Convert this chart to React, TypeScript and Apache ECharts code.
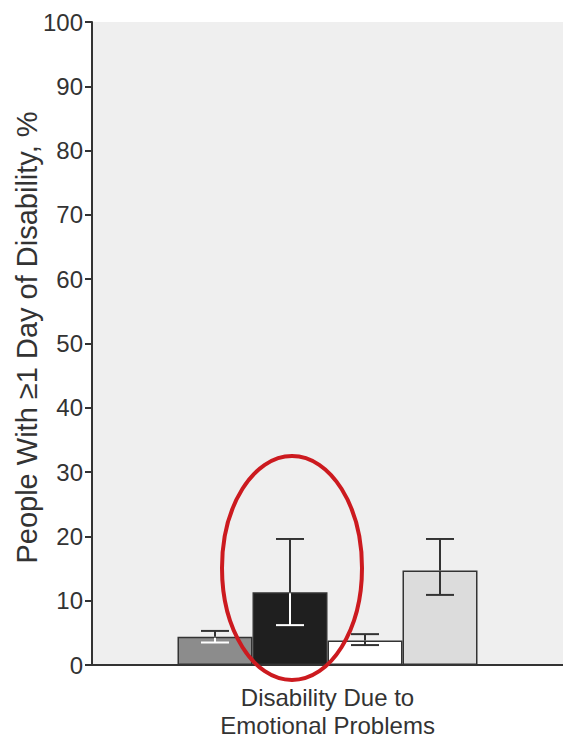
import React, { useEffect, useRef } from "react";
import * as echarts from "echarts";

const categories = ["Disability Due to\nEmotional Problems"];
const seriesNames = ["Group 1", "Group 2", "Group 3", "Group 4"];
const values = [4.4, 11.3, 3.8, 14.7];
const lows = [3.5, 6.2, 3.1, 10.9];
const highs = [5.3, 19.6, 4.8, 19.6];
const barColors = ["#8c8c8c", "#1f1f1f", "#ffffff", "#dcdcdc"];
const innerErrColors = ["#ffffff", "#ffffff", "#333333", "#333333"];
const yTicks = { min: 0, max: 100, interval: 10 };

const BAR_W = 75;
const CAP_W = 28;
const FONT = "'Liberation Sans', Arial, sans-serif";

export default function App() {
  const ref = useRef<HTMLDivElement>(null);
  useEffect(() => {
    if (!ref.current) return;
    const chart = echarts.init(ref.current, undefined, { renderer: "svg" });
    const errData = values.map((v, i) => [0, i, v, lows[i], highs[i]]);
    const option: any = {
      animation: false,
      backgroundColor: "#ffffff",
      grid: {
        left: 92,
        right: 0,
        top: 22,
        bottom: 75,
        containLabel: false,
        outerBoundsMode: "none",
        show: true,
        backgroundColor: "#efefef",
        borderWidth: 0,
      },
      xAxis: {
        type: "category",
        data: categories,
        axisTick: { show: false },
        axisLine: { show: true, lineStyle: { color: "#333333", width: 2 } },
        axisLabel: {
          color: "#333333",
          fontFamily: FONT,
          fontSize: 24,
          lineHeight: 28,
          margin: 18,
        },
      },
      yAxis: {
        type: "value",
        min: yTicks.min,
        max: yTicks.max,
        interval: yTicks.interval,
        name: "People With \u22651 Day of Disability, %",
        nameLocation: "middle",
        nameGap: 51,
        nameMoveOverlap: false,
        nameTextStyle: {
          color: "#333333",
          fontFamily: FONT,
          fontSize: 29,
          padding: [0, 0, 0, 12],
        },
        splitLine: { show: false },
        axisLine: { show: true, lineStyle: { color: "#333333", width: 2 } },
        axisTick: { show: true, length: 7, lineStyle: { color: "#333333", width: 2 } },
        axisLabel: {
          color: "#333333",
          fontFamily: FONT,
          fontSize: 24,
          margin: 9,
        },
      },
      series: [
        ...seriesNames.map((name, i) => ({
          name,
          type: "bar",
          data: [values[i]],
          barWidth: BAR_W,
          barGap: "0%",
          itemStyle: { color: barColors[i], borderColor: "#333333", borderWidth: 1.5 },
          z: 2,
        })),
        {
          type: "custom",
          name: "error",
          data: errData,
          encode: { x: 0, y: [2, 3, 4] },
          z: 5,
          renderItem: (params: any, api: any) => {
            const idx = api.value(1);
            const v = api.value(2);
            const lo = api.value(3);
            const hi = api.value(4);
            const center = api.coord([api.value(0), 0])[0];
            const x = center + (idx - (values.length - 1) / 2) * BAR_W;
            const yHi = api.coord([api.value(0), hi])[1];
            const yLo = api.coord([api.value(0), lo])[1];
            const yV = api.coord([api.value(0), v])[1];
            const dark = "#333333";
            const inner = innerErrColors[idx];
            const lw = 2;
            const children: any[] = [];
            const split = lo < v;
            children.push({
              type: "line",
              shape: { x1: x, y1: yHi, x2: x, y2: split ? yV : yLo },
              style: { stroke: dark, lineWidth: lw },
            });
            if (split) {
              children.push({
                type: "line",
                shape: { x1: x, y1: yV + 1, x2: x, y2: yLo },
                style: { stroke: inner, lineWidth: lw },
              });
            }
            children.push({
              type: "line",
              shape: { x1: x - CAP_W / 2, y1: yHi, x2: x + CAP_W / 2, y2: yHi },
              style: { stroke: dark, lineWidth: lw },
            });
            children.push({
              type: "line",
              shape: { x1: x - CAP_W / 2, y1: yLo, x2: x + CAP_W / 2, y2: yLo },
              style: { stroke: split ? inner : dark, lineWidth: lw },
            });
            return { type: "group", children };
          },
        },
      ],
      graphic: [
        {
          type: "ellipse",
          shape: { cx: 292, cy: 568, rx: 70, ry: 112 },
          style: { fill: "none", stroke: "#cc1a1f", lineWidth: 4 },
          z: 100,
        },
      ],
    };
    chart.setOption(option);
    return () => chart.dispose();
  }, []);
  return (
    <div
      ref={ref}
      style={{ position: "fixed", left: 0, top: 0, width: 563, height: 740, background: "#fff" }}
    />
  );
}
